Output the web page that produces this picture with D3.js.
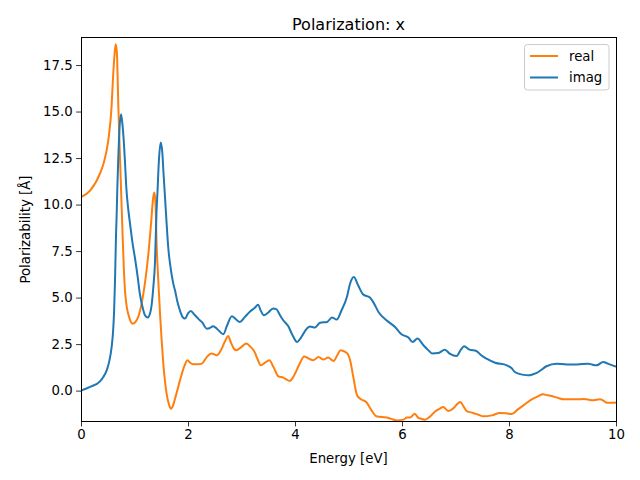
<!DOCTYPE html>
<html>
<head>
<meta charset="utf-8">
<script src="https://cdn.jsdelivr.net/npm/d3@7"></script>
<style>
  html, body { margin: 0; padding: 0; background: #ffffff; }
  svg { display: block; font-family: "DejaVu Sans", sans-serif; }
</style>
</head>
<body>
<svg id="chart" width="640" height="480"></svg>
<script>
// ---- data ----
const realEnergy = [0.00,0.17,0.36,0.42,0.51,0.57,0.60,0.625,0.648,0.67,0.698,0.72,0.742,0.77,0.80,0.822,0.855,0.885,0.93,0.966,1.02,1.07,1.12,1.165,1.21,1.26,1.31,1.35,1.37,1.39,1.415,1.445,1.477,1.51,1.54,1.57,1.60,1.64,1.68,1.72,1.77,1.85,1.93,1.99,2.04,2.10,2.18,2.26,2.35,2.44,2.54,2.62,2.70,2.75,2.80,2.86,2.90,3.00,3.09,3.17,3.24,3.30,3.36,3.44,3.52,3.60,3.69,3.78,3.84,3.90,3.96,4.00,4.08,4.17,4.26,4.34,4.44,4.53,4.62,4.72,4.79,4.85,4.97,5.03,5.09,5.16,5.24,5.33,5.43,5.52,5.71,5.80,5.90,6.03,6.09,6.15,6.24,6.30,6.34,6.43,6.52,6.62,6.70,6.77,6.87,6.96,7.04,7.09,7.15,7.21,7.33,7.43,7.52,7.68,7.83,7.95,8.05,8.16,8.27,8.45,8.55,8.63,8.72,8.80,8.92,9.02,9.27,9.40,9.45,9.58,9.70,9.77,9.83,9.98,10.00];
const realValues = [10.40,10.75,11.70,12.20,13.45,15.2,16.9,18.0,18.62,18.2,15.3,13.3,11.4,9.0,6.6,5.4,4.5,4.1,3.7,3.6,3.7,3.96,4.5,5.2,6.1,7.37,9.0,10.4,10.65,10.2,7.72,5.9,4.14,2.6,1.4,0.5,-0.16,-0.7,-0.97,-0.8,-0.3,0.55,1.3,1.63,1.5,1.42,1.42,1.45,1.8,1.99,1.9,2.2,2.7,2.93,2.6,2.25,2.17,2.35,2.53,2.35,2.1,1.7,1.36,1.5,1.63,1.25,0.77,0.7,0.6,0.52,0.7,0.91,1.4,1.84,1.72,1.63,1.81,1.67,1.78,1.59,1.9,2.17,2.02,1.63,0.73,-0.25,-0.48,-0.61,-1.06,-1.38,-1.45,-1.52,-1.6,-1.56,-1.45,-1.45,-1.24,-1.45,-1.5,-1.56,-1.4,-1.12,-0.98,-0.88,-1.1,-0.95,-0.7,-0.61,-0.85,-1.1,-1.2,-1.3,-1.38,-1.33,-1.2,-1.22,-1.26,-1.02,-0.79,-0.43,-0.3,-0.2,-0.25,-0.29,-0.4,-0.47,-0.47,-0.45,-0.47,-0.52,-0.47,-0.55,-0.65,-0.65,-0.64];

const imagEnergy = [0.00,0.17,0.355,0.42,0.48,0.53,0.573,0.60,0.617,0.636,0.654,0.667,0.68,0.698,0.72,0.748,0.775,0.80,0.822,0.845,0.885,0.916,0.96,1.01,1.06,1.10,1.15,1.196,1.246,1.29,1.32,1.35,1.383,1.41,1.43,1.455,1.49,1.52,1.54,1.57,1.60,1.63,1.68,1.725,1.757,1.80,1.85,1.90,1.944,2.00,2.05,2.13,2.19,2.27,2.35,2.40,2.47,2.55,2.66,2.73,2.82,2.89,2.97,3.06,3.16,3.25,3.31,3.36,3.42,3.50,3.59,3.65,3.72,3.78,3.875,3.95,4.04,4.10,4.22,4.28,4.37,4.47,4.60,4.69,4.78,4.87,4.97,5.03,5.10,5.18,5.27,5.40,5.46,5.56,5.71,5.87,5.99,6.12,6.20,6.29,6.40,6.50,6.56,6.68,6.80,6.90,7.02,7.10,7.16,7.26,7.39,7.48,7.58,7.74,7.96,8.05,8.11,8.25,8.36,8.45,8.55,8.62,8.70,8.89,9.08,9.27,9.48,9.55,9.64,9.76,9.85,9.98,10.00];
const imagValues = [0.0,0.2,0.5,0.75,1.09,1.6,2.35,3.2,4.14,5.93,8.3,9.5,11.0,12.57,14.1,14.85,14.3,13.4,12.3,11.0,9.7,8.98,8.0,7.1,6.1,5.2,4.5,4.05,3.93,4.15,4.6,5.5,6.9,9.5,10.7,12.3,13.33,12.8,11.8,10.4,9.0,7.72,6.5,5.75,5.39,4.8,4.3,3.95,3.87,4.15,4.28,4.05,3.87,3.65,3.33,3.35,3.46,3.3,3.03,3.5,4.0,3.85,3.69,3.95,4.25,4.45,4.62,4.3,4.05,4.2,4.41,4.38,4.05,3.78,3.46,3.0,2.61,2.8,3.33,3.45,3.39,3.65,3.69,3.93,3.82,4.32,5.03,5.76,6.11,5.66,5.18,5.0,4.77,4.23,3.78,3.42,3.03,2.85,2.61,2.8,2.44,2.15,2.0,2.02,2.2,1.97,1.86,2.2,2.38,2.2,2.13,1.9,1.72,1.5,1.36,1.2,1.0,0.86,0.82,0.88,1.0,1.15,1.31,1.45,1.4,1.4,1.45,1.4,1.36,1.54,1.45,1.31,1.3];

const xTicks = [0, 2, 4, 6, 8, 10];
const yTicks = [0.0, 2.5, 5.0, 7.5, 10.0, 12.5, 15.0, 17.5];
const seriesNames = ["real", "imag"];
const seriesColors = ["#ff7f0e", "#1f77b4"];
const titleText = "Polarization: x";
const xLabelText = "Energy [eV]";
const yLabelText = "Polarizability [Å]";

// ---- layout ----
const L = 81, R = 616, T = 37.5, B = 421.5;
const svg = d3.select("#chart");

const x = d3.scaleLinear().domain([0, 10]).range([L, R]);
const y = d3.scaleLinear().domain([-1.66, 18.98]).range([B, T]);

svg.append("defs").append("clipPath").attr("id", "clip")
  .append("rect").attr("x", L).attr("y", T).attr("width", R - L).attr("height", B - T);

const series = [
  { name: seriesNames[0], color: seriesColors[0], pts: realEnergy.map((e, i) => [e, realValues[i]]) },
  { name: seriesNames[1], color: seriesColors[1], pts: imagEnergy.map((e, i) => [e, imagValues[i]]) }
];

const line = d3.line().x(d => x(d[0])).y(d => y(d[1])).curve(d3.curveMonotoneX);

svg.append("g").attr("clip-path", "url(#clip)")
  .selectAll("path").data(series).join("path")
  .attr("d", d => line(d.pts))
  .attr("fill", "none")
  .attr("stroke", d => d.color)
  .attr("stroke-width", 2)
  .attr("stroke-linejoin", "round")
  .attr("stroke-linecap", "square");

// axes
const xAxis = d3.axisBottom(x).tickValues(xTicks).tickFormat(d3.format("d")).tickSize(4.9).tickPadding(3.5);
const yAxis = d3.axisLeft(y).tickValues(yTicks).tickFormat(d3.format(".1f")).tickSize(4.9).tickPadding(3.5);

const gx = svg.append("g").attr("transform", `translate(0,${B})`).call(xAxis);
const gy = svg.append("g").attr("transform", `translate(${L},0)`).call(yAxis);
[gx, gy].forEach(g => {
  g.select(".domain").remove();
  g.selectAll(".tick line").attr("stroke", "#000").attr("stroke-width", 0.8);
  g.selectAll(".tick text").attr("fill", "#000").style("font-size", "13.3px").style("font-family", "DejaVu Sans, sans-serif");
});

// frame (spines)
svg.append("rect").attr("x", L).attr("y", T).attr("width", R - L).attr("height", B - T)
  .attr("fill", "none").attr("stroke", "#000").attr("stroke-width", 1).attr("shape-rendering", "crispEdges");

// title and labels
svg.append("text").attr("x", (L + R) / 2).attr("y", 29.5).attr("text-anchor", "middle")
  .style("font-size", "16px").text(titleText);
svg.append("text").attr("x", (L + R) / 2).attr("y", 463).attr("text-anchor", "middle")
  .style("font-size", "13.3px").text(xLabelText);
svg.append("text").attr("transform", `translate(30,${(T + B) / 2}) rotate(-90)`).attr("text-anchor", "middle")
  .style("font-size", "13.3px").text(yLabelText);

// legend
const lg = svg.append("g");
lg.append("rect").attr("x", 524.5).attr("y", 44.5).attr("width", 84.5).attr("height", 45.5)
  .attr("rx", 3).attr("fill", "#fff").attr("fill-opacity", 0.8)
  .attr("stroke", "#cccccc").attr("stroke-width", 1);
series.forEach((s, i) => {
  const yy = 56 + i * 21.5;
  lg.append("line").attr("x1", 530).attr("x2", 558).attr("y1", yy).attr("y2", yy)
    .attr("stroke", s.color).attr("stroke-width", 2);
  lg.append("text").attr("x", 569).attr("y", yy + 4.8).style("font-size", "13.3px").text(s.name);
});
</script>
</body>
</html>
